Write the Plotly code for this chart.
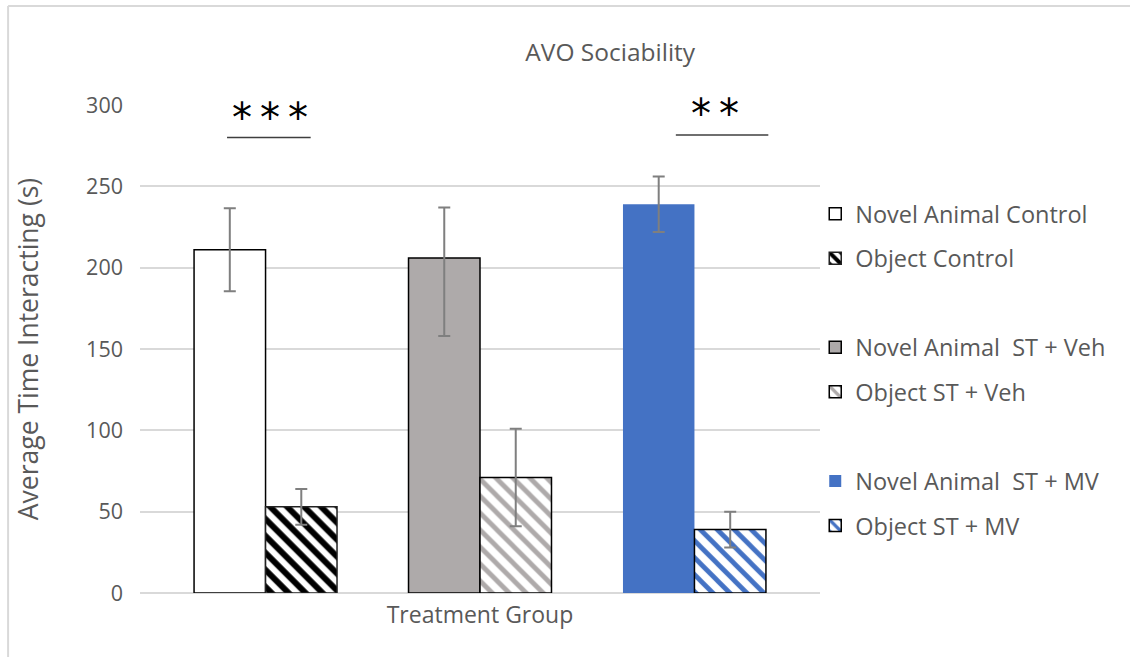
import plotly.graph_objects as go

# ---- data ----
category = ["Treatment Group"]
series_names = ["Novel Animal Control", "Object Control", " ",
                "Novel Animal \u00a0ST + Veh", "Object ST + Veh", "  ",
                "Novel Animal \u00a0ST + MV", "Object ST + MV"]
means = [211, 53, None, 206, 71, None, 239, 39]
err_plus = [25.5, 11, None, 31, 30, None, 17, 11]
err_minus = [25.5, 11, None, 48, 30, None, 17, 11]
y_ticks = [0, 50, 100, 150, 200, 250, 300]
sig_labels = ["*\u2009*\u2009*", "*\u2009*"]
sig_level = [280, 281.5]

# ---- styles ----
GRAY_TXT = "#595959"
FONT = "Open Sans"
styles = [
    dict(color="white", line=dict(color="black", width=1.5), pattern=None),
    dict(color="white", line=dict(color="#222222", width=1.5),
         pattern=dict(shape="\\", fgcolor="black", bgcolor="white", size=12,
                      solidity=0.5, fillmode="overlay", fgopacity=1)),
    None,
    dict(color="#aeaaaa", line=dict(color="black", width=1.5), pattern=None),
    dict(color="white", line=dict(color="black", width=1.5),
         pattern=dict(shape="\\", fgcolor="#aeaaaa", bgcolor="white", size=12,
                      solidity=0.4, fillmode="overlay", fgopacity=1)),
    None,
    dict(color="#4472c4", line=dict(color="#4472c4", width=0), pattern=None),
    dict(color="white", line=dict(color="black", width=1.5),
         pattern=dict(shape="\\", fgcolor="#4472c4", bgcolor="white", size=12,
                      solidity=0.4, fillmode="overlay", fgopacity=1)),
]

fig = go.Figure()
for i, name in enumerate(series_names):
    st = styles[i]
    if st is None:
        fig.add_trace(go.Bar(
            x=category, y=[0], name=name, legendgroup=f"g{i}",
            marker=dict(color="rgba(255,255,255,0)", line=dict(width=0)),
            hoverinfo="skip"))
        continue
    marker = dict(color=st["color"], line=st["line"])
    if st["pattern"]:
        marker["pattern"] = st["pattern"]
    fig.add_trace(go.Bar(
        x=category, y=[means[i]], name=name, legendgroup=f"g{i}",
        marker=marker,
        error_y=dict(type="data", symmetric=False, array=[err_plus[i]],
                     arrayminus=[err_minus[i]], color="#7f7f7f",
                     thickness=2, width=6),
    ))

# significance markers
sig_x = [(0.191, 0.128, 0.251), (0.846, 0.788, 0.924)]
sig_text_offset = [-3.5, -2.5]
for (cx, x0, x1), lab, lev, off in zip(sig_x, sig_labels, sig_level, sig_text_offset):
    fig.add_shape(type="line", xref="paper", yref="y", x0=x0, x1=x1,
                  y0=lev, y1=lev, line=dict(color="#3f3f3f", width=1.5))
    fig.add_annotation(xref="paper", yref="y", x=cx, y=lev + off,
                       text=lab, showarrow=False, xanchor="center",
                       yanchor="bottom",
                       font=dict(family="DejaVu Sans", size=40, color="black"))

# outer border (light frame)
fig.add_shape(type="line", xref="paper", yref="paper", x0=-0.194, x1=-0.194,
              y0=-1, y1=1.203, line=dict(color="#d9d9d9", width=2))
fig.add_shape(type="line", xref="paper", yref="paper", x0=-0.194, x1=2,
              y0=1.203, y1=1.203, line=dict(color="#d9d9d9", width=2))

fig.update_layout(
    width=1130, height=657,
    margin=dict(l=140, r=310, t=105, b=64),
    paper_bgcolor="white", plot_bgcolor="white",
    barmode="group", bargap=0.159, bargroupgap=0,
    font=dict(family=FONT, color=GRAY_TXT, size=21),
    title=dict(text="AVO Sociability", x=0.54, xanchor="center",
               y=1 - 52 / 657, yanchor="middle",
               font=dict(family=FONT, size=24.5, color=GRAY_TXT)),
    showlegend=True,
    legend=dict(x=0.993, xanchor="left", y=0.822, yanchor="top",
                font=dict(family=FONT, size=23.5, color=GRAY_TXT),
                tracegroupgap=11, bgcolor="rgba(0,0,0,0)"),
    xaxis=dict(showgrid=False, showline=False, ticks="",
               ticklabelstandoff=6,
               tickfont=dict(size=23, color=GRAY_TXT)),
    yaxis=dict(range=[0, 300], tickvals=y_ticks, showgrid=True,
               gridcolor="#d9d9d9", gridwidth=1.5, zeroline=True,
               zerolinecolor="#d9d9d9", zerolinewidth=1.5, showline=False,
               ticks="", ticklabelstandoff=16,
               tickfont=dict(size=21.5, color=GRAY_TXT),
               title=dict(text="Average Time Interacting (s)", standoff=39,
                          font=dict(size=26.5, color=GRAY_TXT))),
)

fig.write_html("out.html", config={"displayModeBar": False},
               post_script="document.body.style.margin='0';")
